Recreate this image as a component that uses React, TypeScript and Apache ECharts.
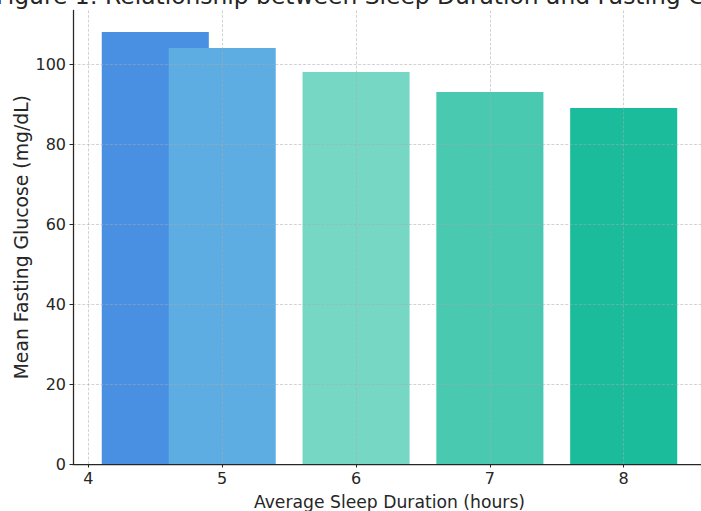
import React, { useEffect, useRef } from "react";
import * as echarts from "echarts";

const TITLE = "Figure 1: Relationship between Sleep Duration and Fasting Glucose Levels";
const X_NAME = "Average Sleep Duration (hours)";
const Y_NAME = "Mean Fasting Glucose (mg/dL)";

const sleepHours = [4.5, 5, 6, 7, 8];
const glucose = [108, 104, 98, 93, 89];
const barColors = ["#4a90e2", "#5dade2", "#76d7c4", "#48c9b0", "#1abc9c"];
const xTicks = [4, 5, 6, 7, 8];
const yTicks = [0, 20, 40, 60, 80, 100];

const BAR_WIDTH = 0.8;
const X_MIN = 3.885;
const X_MAX = 8.615;
const Y_MAX = 113.4;

const FONT = "DejaVu Sans";
const TEXT = "#262626";

export default function App() {
  const ref = useRef<HTMLDivElement>(null);

  useEffect(() => {
    document.body.style.margin = "0";
    if (!ref.current) return;
    const chart = echarts.init(ref.current, null, { renderer: "svg" });
    const grid = { color: "rgba(170,170,170,0.65)", width: 0.8, type: [3, 1.6] as number[] };
    chart.setOption({
      animation: false,
      backgroundColor: "#ffffff",
      title: {
        text: TITLE,
        left: -4,
        top: -16,
        padding: 0,
        textStyle: { fontFamily: FONT, fontSize: 23.4, fontWeight: "normal", color: TEXT, lineHeight: 23 },
      },
      grid: { left: 73, top: 10.4, width: 633, height: 453.6, outerBoundsMode: "none", containLabel: false },
      xAxis: {
        type: "value",
        min: X_MIN,
        max: X_MAX,
        z: 5,
        name: X_NAME,
        nameLocation: "middle",
        nameGap: 29,
        nameMoveOverlap: false,
        nameTextStyle: { fontFamily: FONT, fontSize: 17.2, color: TEXT },
        axisLine: { show: true, lineStyle: { color: TEXT, width: 1.25 } },
        axisTick: { show: true, length: 3.5, customValues: xTicks, lineStyle: { color: TEXT, width: 1 } },
        axisLabel: { customValues: xTicks, fontFamily: FONT, fontSize: 16, color: TEXT, margin: 6 },
        splitLine: { show: true, lineStyle: grid },
      },
      yAxis: {
        type: "value",
        min: 0,
        max: Y_MAX,
        z: 5,
        name: Y_NAME,
        nameLocation: "middle",
        nameGap: 42,
        nameMoveOverlap: false,
        nameTextStyle: { fontFamily: FONT, fontSize: 18.8, color: TEXT },
        axisLine: { show: true, lineStyle: { color: TEXT, width: 1.25 } },
        axisTick: { show: true, length: 3.5, customValues: yTicks, lineStyle: { color: TEXT, width: 1 } },
        axisLabel: { customValues: yTicks, fontFamily: FONT, fontSize: 16, color: TEXT, margin: 7 },
        splitLine: { show: true, lineStyle: grid },
      },
      series: [
        {
          type: "custom",
          z: 2,
          data: sleepHours.map((x, i) => [x, glucose[i]]),
          encode: { x: 0, y: 1 },
          renderItem: (params: any, api: any) => {
            const x = api.value(0);
            const y = api.value(1);
            const p0 = api.coord([x - BAR_WIDTH / 2, y]);
            const p1 = api.coord([x + BAR_WIDTH / 2, 0]);
            return {
              type: "rect",
              shape: { x: p0[0], y: p0[1], width: p1[0] - p0[0], height: p1[1] - p0[1] },
              style: { fill: barColors[params.dataIndex] },
            };
          },
        },
      ],
    });
    return () => chart.dispose();
  }, []);

  return <div ref={ref} style={{ width: 701, height: 511 }} />;
}
